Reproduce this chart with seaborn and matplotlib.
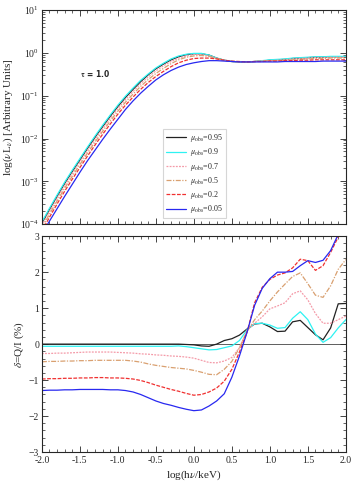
import numpy as np
import pandas as pd
import seaborn as sns
import matplotlib.pyplot as plt
from matplotlib.ticker import MultipleLocator, LogLocator, NullFormatter

# energy grid, log(h nu / keV)
log_e = [-2.0, -1.9, -1.8, -1.7, -1.6, -1.5, -1.4, -1.3, -1.2, -1.1, -1.0,
         -0.9, -0.8, -0.7, -0.6, -0.5, -0.4, -0.3, -0.2, -0.1, 0.0,
         0.1, 0.2, 0.3, 0.4, 0.5, 0.6, 0.7, 0.8, 0.9, 1.0,
         1.1, 1.2, 1.3, 1.4, 1.5, 1.6, 1.7, 1.8, 1.9, 2.0]

mu_labels = ["0.95", "0.9", "0.7", "0.5", "0.2", "0.05"]

# log10(nu L_nu) per mu_obs
lum_095 = [-3.98, -3.66, -3.35, -3.05, -2.77, -2.50, -2.23, -1.97, -1.72, -1.48, -1.25,
           -1.04, -0.85, -0.67, -0.51, -0.37, -0.26, -0.16, -0.09, -0.04, -0.02,
           -0.02, -0.05, -0.12, -0.17, -0.20, -0.21, -0.21, -0.20, -0.19, -0.17,
           -0.16, -0.15, -0.13, -0.12, -0.11, -0.10, -0.10, -0.09, -0.09, -0.09]
lum_09 = [-3.95, -3.63, -3.32, -3.02, -2.74, -2.47, -2.20, -1.94, -1.69, -1.45, -1.22,
          -1.01, -0.82, -0.64, -0.49, -0.35, -0.24, -0.14, -0.07, -0.03, -0.01,
          -0.01, -0.05, -0.12, -0.17, -0.20, -0.21, -0.21, -0.20, -0.18, -0.16,
          -0.15, -0.14, -0.12, -0.11, -0.10, -0.09, -0.09, -0.08, -0.08, -0.08]
lum_07 = [-4.03, -3.71, -3.40, -3.10, -2.82, -2.55, -2.28, -2.02, -1.77, -1.53, -1.30,
          -1.09, -0.90, -0.72, -0.56, -0.42, -0.30, -0.20, -0.12, -0.07, -0.04,
          -0.04, -0.07, -0.13, -0.17, -0.20, -0.21, -0.21, -0.20, -0.19, -0.18,
          -0.17, -0.16, -0.14, -0.13, -0.12, -0.11, -0.11, -0.10, -0.10, -0.10]
lum_05 = [-4.09, -3.77, -3.46, -3.16, -2.88, -2.61, -2.34, -2.08, -1.83, -1.59, -1.36,
          -1.15, -0.96, -0.78, -0.62, -0.48, -0.36, -0.25, -0.16, -0.10, -0.07,
          -0.06, -0.08, -0.13, -0.17, -0.20, -0.21, -0.21, -0.20, -0.19, -0.18,
          -0.18, -0.17, -0.16, -0.15, -0.14, -0.13, -0.13, -0.12, -0.12, -0.12]
lum_02 = [-4.16, -3.84, -3.53, -3.23, -2.95, -2.68, -2.41, -2.15, -1.90, -1.66, -1.43,
          -1.22, -1.03, -0.85, -0.69, -0.55, -0.43, -0.32, -0.23, -0.17, -0.13,
          -0.12, -0.12, -0.14, -0.17, -0.19, -0.20, -0.21, -0.20, -0.20, -0.19,
          -0.19, -0.18, -0.18, -0.17, -0.17, -0.16, -0.16, -0.16, -0.16, -0.16]
lum_005 = [-4.23, -3.93, -3.64, -3.35, -3.07, -2.79, -2.52, -2.27, -2.02, -1.78, -1.55,
           -1.32, -1.12, -0.94, -0.78, -0.63, -0.51, -0.41, -0.33, -0.27, -0.23,
           -0.20, -0.18, -0.18, -0.19, -0.20, -0.21, -0.21, -0.21, -0.21, -0.21,
           -0.21, -0.20, -0.20, -0.20, -0.20, -0.20, -0.19, -0.19, -0.19, -0.19]

# polarization degree delta = Q/I (%)
pol_095 = [0.0, 0.0, 0.0, 0.0, 0.0, 0.0, 0.0, 0.0, 0.0, 0.0, 0.0,
           0.0, 0.0, 0.0, 0.0, 0.0, 0.0, 0.0, 0.0, -0.01, -0.02,
           -0.05, -0.06, 0.0, 0.10, 0.15, 0.25, 0.42, 0.56, 0.58, 0.48,
           0.35, 0.36, 0.62, 0.66, 0.46, 0.26, 0.12, 0.45, 1.12, 1.13]
pol_09 = [-0.06, -0.06, -0.06, -0.06, -0.06, -0.06, -0.06, -0.06, -0.06, -0.06, -0.06,
          -0.06, -0.06, -0.06, -0.06, -0.06, -0.06, -0.06, -0.05, -0.07, -0.10,
          -0.13, -0.16, -0.15, -0.10, -0.05, 0.10, 0.40, 0.57, 0.58, 0.53,
          0.44, 0.46, 0.72, 0.90, 0.68, 0.28, 0.05, 0.18, 0.45, 0.68]
pol_07 = [-0.26, -0.26, -0.25, -0.25, -0.24, -0.23, -0.22, -0.22, -0.22, -0.22, -0.23,
          -0.24, -0.25, -0.27, -0.28, -0.30, -0.31, -0.33, -0.34, -0.36, -0.39,
          -0.45, -0.51, -0.52, -0.47, -0.37, -0.10, 0.38, 0.58, 0.76, 0.98,
          1.06, 1.15, 1.40, 1.48, 1.23, 0.85, 0.58, 0.58, 0.68, 0.78]
pol_05 = [-0.49, -0.48, -0.48, -0.47, -0.47, -0.46, -0.46, -0.45, -0.45, -0.45, -0.45,
          -0.45, -0.47, -0.50, -0.55, -0.59, -0.62, -0.65, -0.67, -0.69, -0.73,
          -0.78, -0.84, -0.85, -0.70, -0.48, -0.10, 0.36, 0.68, 0.92, 1.20,
          1.45, 1.67, 1.88, 1.98, 1.68, 1.36, 1.30, 1.62, 2.08, 2.35]
pol_02 = [-0.97, -0.96, -0.96, -0.95, -0.95, -0.94, -0.94, -0.93, -0.93, -0.94, -0.94,
          -0.95, -0.97, -1.01, -1.07, -1.14, -1.20, -1.26, -1.31, -1.37, -1.42,
          -1.40, -1.33, -1.22, -1.03, -0.70, -0.22, 0.33, 1.15, 1.58, 1.80,
          1.92, 1.98, 2.12, 2.36, 2.32, 2.05, 2.18, 2.55, 2.98, 3.35]
pol_005 = [-1.29, -1.28, -1.28, -1.27, -1.27, -1.26, -1.26, -1.26, -1.26, -1.27, -1.27,
           -1.29, -1.33, -1.40, -1.49, -1.58, -1.65, -1.70, -1.76, -1.81, -1.85,
           -1.83, -1.72, -1.58, -1.38, -0.92, -0.33, 0.33, 1.08, 1.55, 1.82,
           2.00, 2.00, 2.02, 2.18, 2.32, 2.27, 2.33, 2.60, 3.05, 3.40]

lum = [lum_095, lum_09, lum_07, lum_05, lum_02, lum_005]
pol = [pol_095, pol_09, pol_07, pol_05, pol_02, pol_005]

colors = ["#222222", "#2ef2f2", "#f49aa8", "#d9a070", "#f03030", "#2828f0"]
styles = ["-", "-", (0, (1.5, 1)), (0, (4, 1.2, 1, 1.2)), (0, (3, 1.2)), "-"]

sns.set_style("ticks")
plt.rcParams['font.family'] = ['Liberation Serif', 'DejaVu Serif']
plt.rcParams['mathtext.fontset'] = 'stix'
plt.rcParams['xtick.direction'] = 'in'
plt.rcParams['ytick.direction'] = 'in'

fig = plt.figure(figsize=(3.58, 4.84), dpi=100)
ax1 = fig.add_axes([0.117, 0.537, 0.849, 0.442])
ax2 = fig.add_axes([0.117, 0.066, 0.849, 0.446])

for i, m in enumerate(mu_labels):
    df = pd.DataFrame({"x": log_e, "y": np.power(10.0, lum[i])})
    sns.lineplot(data=df, x="x", y="y", ax=ax1, color=colors[i], linestyle=styles[i],
                 linewidth=0.9, label=r"$\mu_{\rm obs}$=" + m)
    dp = pd.DataFrame({"x": log_e, "y": pol[i]})
    sns.lineplot(data=dp, x="x", y="y", ax=ax2, color=colors[i], linestyle=styles[i],
                 linewidth=0.9, legend=False)

ax2.axhline(0, color="#444444", linewidth=0.6, zorder=0)

# top panel
ax1.set_yscale("log")
ax1.set_xlim(-2.0, 2.0)
ax1.set_ylim(1e-4, 10)
ax1.set_xlabel("")
ax1.set_ylabel(r"log($\nu$L$_\nu$) [Arbitrary Units]", fontsize=8)
ax1.xaxis.set_major_locator(MultipleLocator(0.5))
ax1.xaxis.set_minor_locator(MultipleLocator(0.1))
ax1.set_xticklabels([])
ax1.yaxis.set_minor_locator(LogLocator(base=10, subs=np.arange(2, 10), numticks=20))
ax1.yaxis.set_minor_formatter(NullFormatter())
ax1.text(-1.5, 0.33, r"$\mathbf{\tau}$ = 1.0", fontsize=5.5, fontweight="bold",
         family="DejaVu Sans", va="center")
leg = ax1.legend(loc="upper left", bbox_to_anchor=(0.385, 0.462), fontsize=5.8,
                 handlelength=2.5, handletextpad=0.5, labelspacing=0.28,
                 borderpad=0.35, fancybox=False, frameon=True)
leg.get_frame().set_edgecolor("#cccccc")
leg.get_frame().set_linewidth(0.8)

# bottom panel
ax2.set_xlim(-2.0, 2.0)
ax2.set_ylim(-3, 3)
ax2.xaxis.set_major_locator(MultipleLocator(0.5))
ax2.xaxis.set_minor_locator(MultipleLocator(0.1))
ax2.yaxis.set_major_locator(MultipleLocator(1))
ax2.yaxis.set_minor_locator(MultipleLocator(0.2))
ax2.set_xticks(np.arange(-2.0, 2.01, 0.5))
ax2.set_xticklabels([f"{v:.1f}" for v in np.arange(-2.0, 2.01, 0.5)])
ax2.set_xlabel(r"log(h$\nu$/keV)", fontsize=8, labelpad=2)
ax2.set_ylabel(r"$\delta$=Q/I (%)", fontsize=8, labelpad=2)

for ax in (ax1, ax2):
    ax.tick_params(which="both", top=True, right=True, labelsize=7, pad=2)
    ax.tick_params(which="major", length=4, width=0.6)
    ax.tick_params(which="minor", length=2, width=0.5)
    for s in ax.spines.values():
        s.set_linewidth(0.8)
ax2.tick_params(axis="x", which="major", pad=3)

fig.savefig("out.png", dpi=100)
